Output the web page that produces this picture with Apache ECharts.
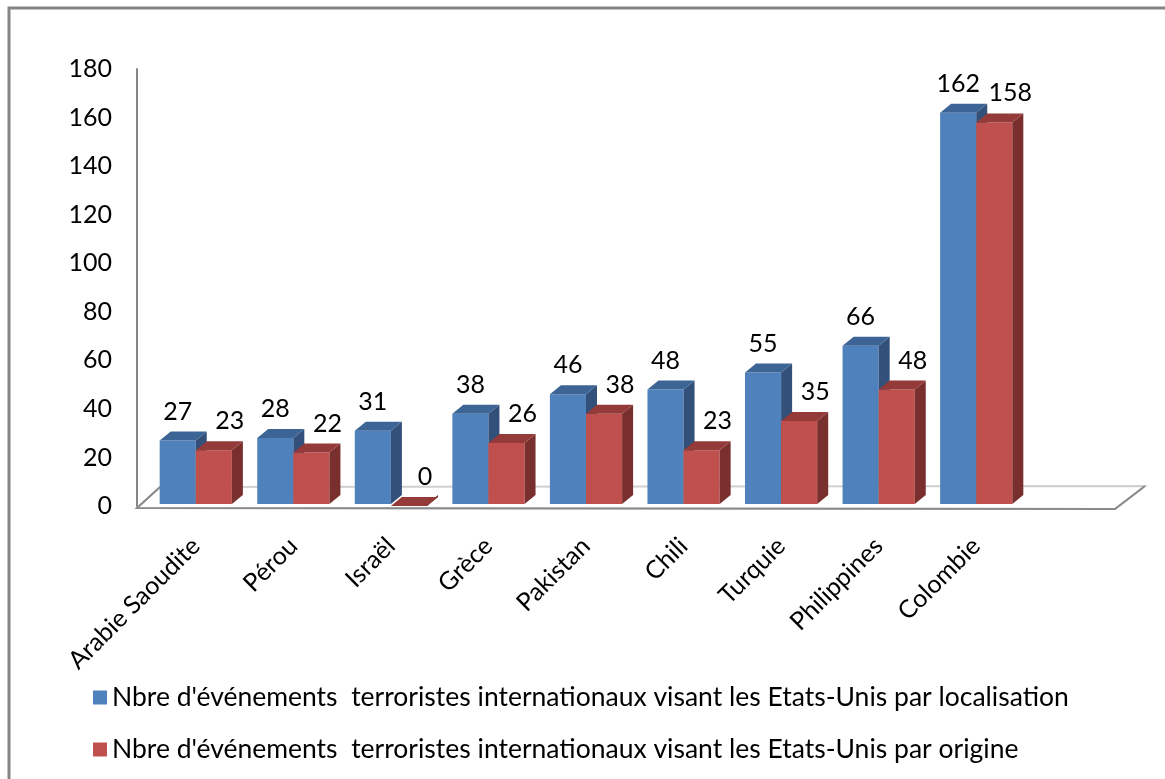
<!DOCTYPE html>
<html>
<head>
<meta charset="utf-8">
<script src="https://cdn.jsdelivr.net/npm/echarts@6/dist/echarts.min.js"></script>
<style>
  html, body { margin: 0; padding: 0; background: #fff; }
  #chart { width: 1165px; height: 779px; }
</style>
</head>
<body>
<div id="chart"></div>
<script>
const categories = ['Arabie Saoudite', 'Pérou', 'Israël', 'Grèce', 'Pakistan', 'Chili', 'Turquie', 'Philippines', 'Colombie'];
const parLocalisation = [27, 28, 31, 38, 46, 48, 55, 66, 162];
const parOrigine = [23, 22, 0, 26, 38, 23, 35, 48, 158];
const seriesNames = [
  "Nbre d'événements  terroristes internationaux visant les Etats-Unis par localisation",
  "Nbre d'événements  terroristes internationaux visant les Etats-Unis par origine"
];

const fontFamily = 'Lato, "Open Sans", sans-serif';
const depthX = 11;
const depthY = -9;

// couleurs face avant / dessus / côté
const blue = { front: '#4f81bd', top: '#3c6595', side: '#33507a' };
const red = { front: '#c0504d', top: '#943a38', side: '#782f2d' };

function make3dBar(colors, slot, labelShift) {
  return function (params, api) {
    const cat = api.value(0);
    const val = api.value(1);
    const top = api.coord([cat, val]);
    const base = api.coord([cat, 0]);
    const bw = api.size([1, 0])[0] * 0.37;
    const x0 = top[0] - bw + slot * bw;
    const x1 = x0 + bw;
    const yt = top[1];
    const yb = base[1] - 2;
    return {
      type: 'group',
      children: [
        {
          type: 'rect',
          shape: { x: x0, y: yt, width: bw, height: Math.max(yb - yt, 0) },
          style: { fill: colors.front }
        },
        {
          type: 'polygon',
          shape: { points: [[x1, yt], [x1 + depthX, yt + depthY], [x1 + depthX, yb + depthY], [x1, yb]] },
          style: { fill: colors.side }
        },
        {
          type: 'polygon',
          shape: { points: [[x0, yt], [x1, yt], [x1 + depthX, yt + depthY], [x0 + depthX, yt + depthY]] },
          style: { fill: colors.top }
        },
        {
          type: 'text',
          style: {
            text: String(val),
            x: (x0 + x1) / 2 + labelShift,
            y: yt + depthY - 20,
            align: 'center',
            verticalAlign: 'middle',
            fill: '#000',
            font: '25px ' + fontFamily
          }
        }
      ]
    };
  };
}

const chart = echarts.init(document.getElementById('chart'), null, { renderer: 'canvas' });

chart.setOption({
  animation: false,
  backgroundColor: '#fff',
  textStyle: { fontFamily: fontFamily },
  grid: { left: 147, right: 140, top: 69, bottom: 273 },
  graphic: [
    {
      type: 'rect',
      shape: { x: 9, y: 8, width: 1300, height: 900 },
      style: { fill: null, stroke: '#868686', lineWidth: 3 },
      z: 0
    },
    {
      // plancher 3D
      type: 'polygon',
      shape: { points: [[137, 508], [1115, 509], [1145, 486], [160, 487]] },
      style: { fill: '#fff', stroke: '#d0d0d0', lineWidth: 2 },
      z: 0
    },
    {
      type: 'polyline',
      shape: { points: [[160, 487], [137, 508], [1115, 509], [1145, 486]] },
      style: { fill: null, stroke: '#8a8a8a', lineWidth: 2 },
      z: 1
    }
  ],
  legend: {
    orient: 'vertical',
    left: 88,
    top: 679,
    itemGap: 25,
    itemWidth: 14,
    itemHeight: 14,
    icon: 'rect',
    data: seriesNames,
    textStyle: { fontSize: 26.5, color: '#000', fontFamily: fontFamily }
  },
  xAxis: {
    type: 'category',
    data: categories,
    axisLine: { show: false },
    axisTick: { show: false },
    axisLabel: {
      rotate: 45,
      interval: 0,
      margin: 36,
      fontSize: 25,
      color: '#000',
      fontFamily: fontFamily
    }
  },
  yAxis: {
    type: 'value',
    min: 0,
    max: 180,
    interval: 20,
    offset: 10,
    axisLine: { show: true, lineStyle: { color: '#868686', width: 2 } },
    axisTick: { show: false },
    splitLine: { show: false },
    axisLabel: { margin: 25, fontSize: 25, color: '#000', fontFamily: fontFamily }
  },
  series: [
    {
      name: seriesNames[0],
      type: 'custom',
      itemStyle: { color: blue.front },
      renderItem: make3dBar(blue, 0, 0),
      data: parLocalisation.map((v, i) => [i, v]),
      z: 3
    },
    {
      name: seriesNames[1],
      type: 'custom',
      itemStyle: { color: red.front },
      renderItem: make3dBar(red, 1, 16),
      data: parOrigine.map((v, i) => [i, v]),
      z: 4
    }
  ]
});
</script>
</body>
</html>
